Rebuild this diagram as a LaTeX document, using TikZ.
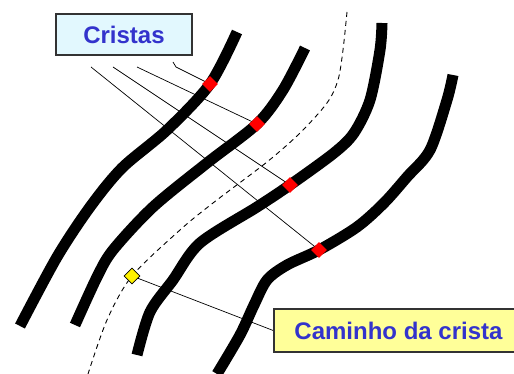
\documentclass[tikz,border=0pt]{standalone}
\usepackage{fontspec}
\setmainfont{Liberation Sans}
\usetikzlibrary{shapes.geometric, positioning, calc, backgrounds}
\definecolor{labelblue}{HTML}{3333CC}
\definecolor{boxcyan}{HTML}{E2F8FE}
\definecolor{boxyellow}{HTML}{FFFF99}
\definecolor{framegrey}{HTML}{333333}
\tikzset{
  labelbox/.style={rectangle, draw=framegrey, line width=1.6pt, inner sep=0pt,
                   font=\fontsize{24}{26}\selectfont\bfseries, text=labelblue},
  ridge/.style={line width=11pt, line cap=butt, line join=round},
  crestpath/.style={line width=0.9pt, dash pattern=on 5pt off 4pt},
  crestpt/.style={diamond, fill=red, minimum size=16pt, inner sep=0pt},
  pathpt/.style={diamond, draw=black, fill=yellow, thick, minimum size=16pt, inner sep=0pt},
  leader/.style={draw=black, line width=0.7pt},
}

\begin{document}
\begin{tikzpicture}[x=1pt, y=-1pt]
  \useasboundingbox (0,0) rectangle (514,374);

  % --- labels ---
  \node[labelbox, fill=boxcyan, minimum width=136pt, minimum height=41pt] (cristas)
       at (124,34.5) {Cristas};
  \node[labelbox, fill=boxyellow, minimum width=249pt, minimum height=43pt] (caminho)
       at (398.5,330.5) {Caminho da crista};

  % --- crest points ---
  \node[crestpt] (c1) at (210,84) {};
  \node[crestpt] (c2) at (257,124) {};
  \node[crestpt] (c3) at (290,185) {};
  \node[crestpt] (c4) at (319,250) {};
  \node[pathpt]  (p1) at (132,276) {};

  % leader line ends near the Cristas label
  \coordinate (l1) at (173,62);
  \coordinate (l1b) at (176,67);
  \coordinate (l2) at (137,67);
  \coordinate (l3) at (113,67);
  \coordinate (l4) at (91,67);

  \begin{scope}[on background layer]
    % --- ridges (thick black curves) ---
    \draw[ridge] plot[smooth, tension=0.5] coordinates
      {(237,32) (210,84) (167,130) (122,168) (90,207) (57,257) (20,326)};
    \draw[ridge] plot[smooth, tension=0.5] coordinates
      {(305,48) (283,90) (257,124) (207,163) (153,207) (113,250) (97,277) (75,325)};
    \draw[ridge] plot[smooth, tension=0.5] coordinates
      {(382,23) (380,50) (370,100) (354,133) (334,153) (290,185) (257,207) (200,243) (173,280) (150,312) (137,355)};
    \draw[ridge] plot[smooth, tension=0.5] coordinates
      {(453,75) (447,100) (430,150) (407,177) (384,203) (357,227) (319,250) (287,265) (267,280) (254,305) (240,335) (217,374)};

    % --- crest path (dashed) ---
    \draw[crestpath] plot[smooth, tension=0.5] coordinates
      {(347,12) (343,50) (338,80) (327,103) (300,133) (267,162) (213,203) (180,230) (132,276) (107,320) (88,374)};

    % --- leaders ---
    \draw[leader] (l1) -- (l1b) -- (c1.center);
    \draw[leader] (l2) -- (c2.center);
    \draw[leader] (l3) -- (c3.center);
    \draw[leader] (l4) -- (c4.center);
    \draw[leader] (p1.center) -- (caminho.west);
  \end{scope}

\end{tikzpicture}
\end{document}
